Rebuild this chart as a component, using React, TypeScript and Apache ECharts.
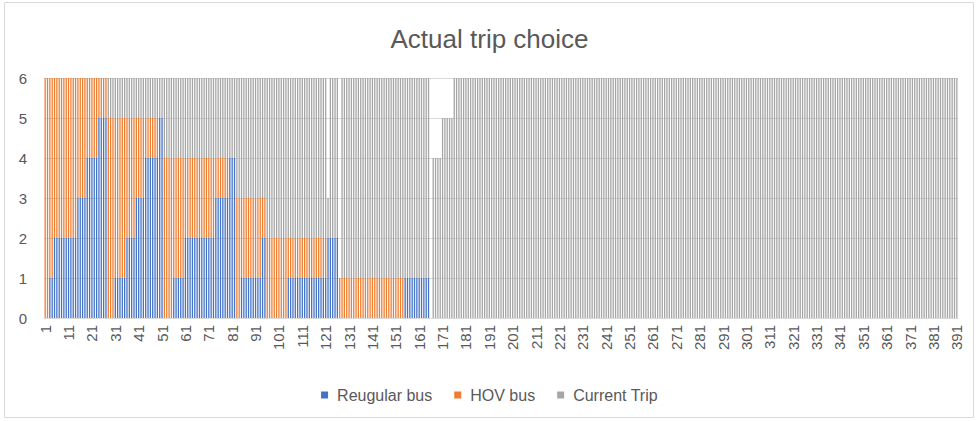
import React, { useEffect, useRef } from "react";
import * as echarts from "echarts";

// Run-length description of the sorted respondents
const runLengths = [2, 2, 10, 4, 5, 4, 3, 5, 4, 4, 6, 2, 4, 5, 13, 6, 3, 2, 9, 2, 9, 17, 1, 4, 1, 27, 11, 1, 4, 5, 216];
const regularBusLevels = [0, 1, 2, 3, 4, 5, 0, 1, 2, 3, 4, 5, 0, 1, 2, 3, 4, 0, 1, 2, 0, 1, 2, 2, 0, 0, 1, 0, 0, 0, 0];
const hovBusLevels = [6, 5, 4, 3, 2, 1, 5, 4, 3, 2, 1, 0, 4, 3, 2, 1, 0, 3, 2, 1, 2, 1, 0, 0, 1, 1, 0, 0, 0, 0, 0];
const currentTripLevels = [0, 0, 0, 0, 0, 0, 1, 1, 1, 1, 1, 1, 2, 2, 2, 2, 2, 3, 3, 3, 4, 4, 1, 4, 0, 5, 5, 0, 4, 5, 6];

const categoryCount = 391;
const categories = Array.from({ length: categoryCount }, (_, i) => String(i + 1));
const yTicks = [0, 1, 2, 3, 4, 5, 6];

const seriesNames = ["Reugular bus", "HOV bus", "Current Trip"];
const seriesColors = ["#4472C4", "#ED7D31", "#A5A5A5"];

function expand(levels: number[]): number[] {
  const out: number[] = [];
  runLengths.forEach((n, i) => {
    for (let k = 0; k < n; k++) out.push(levels[i]);
  });
  return out;
}

const FONT = "'Liberation Sans', Arial, sans-serif";

export default function App() {
  const ref = useRef<HTMLDivElement>(null);
  useEffect(() => {
    if (!ref.current) return;
    const chart = echarts.init(ref.current, null, { renderer: "svg" });
    const dataSets = [expand(regularBusLevels), expand(hovBusLevels), expand(currentTripLevels)];
    chart.setOption({
      animation: false,
      backgroundColor: "#ffffff",
      title: {
        text: "Actual trip choice",
        left: "center",
        top: 21,
        textStyle: { fontFamily: FONT, fontSize: 26, fontWeight: "normal", color: "#595959" },
      },
      legend: {
        data: seriesNames,
        left: "center",
        top: 382,
        icon: "rect",
        itemWidth: 7,
        itemHeight: 7,
        itemGap: 22,
        textStyle: { fontFamily: FONT, fontSize: 16, color: "#595959", padding: [0, 0, 0, 4] },
      },
      grid: { left: 44, right: 21, top: 78, height: 240, containLabel: false },
      xAxis: {
        type: "category",
        data: categories,
        axisTick: { show: false },
        axisLine: { lineStyle: { color: "#d9d9d9", width: 1 } },
        axisLabel: {
          interval: 9,
          rotate: 90,
          margin: 7,
          fontFamily: FONT,
          fontSize: 15,
          color: "#595959",
        },
      },
      yAxis: {
        type: "value",
        min: yTicks[0],
        max: yTicks[yTicks.length - 1],
        interval: 1,
        axisLine: { show: false },
        axisTick: { show: false },
        axisLabel: { margin: 17, fontFamily: FONT, fontSize: 15, color: "#595959" },
        splitLine: { lineStyle: { color: "#d9d9d9", width: 1 } },
      },
      graphic: [
        {
          type: "rect",
          silent: true,
          shape: { x: 4.5, y: 2.5, width: 969, height: 415 },
          style: { fill: "none", stroke: "#d9d9d9", lineWidth: 1 },
        },
      ],
      series: seriesNames.map((name, i) => ({
        name,
        type: "bar",
        stack: "total",
        data: dataSets[i],
        barCategoryGap: "45%",
        itemStyle: { color: seriesColors[i] },
      })),
    });
    return () => chart.dispose();
  }, []);
  return (
    <div style={{ position: "fixed", left: 0, top: 0, width: 979, height: 421, background: "#fff" }}>
      <div ref={ref} style={{ width: 979, height: 421 }} />
    </div>
  );
}
